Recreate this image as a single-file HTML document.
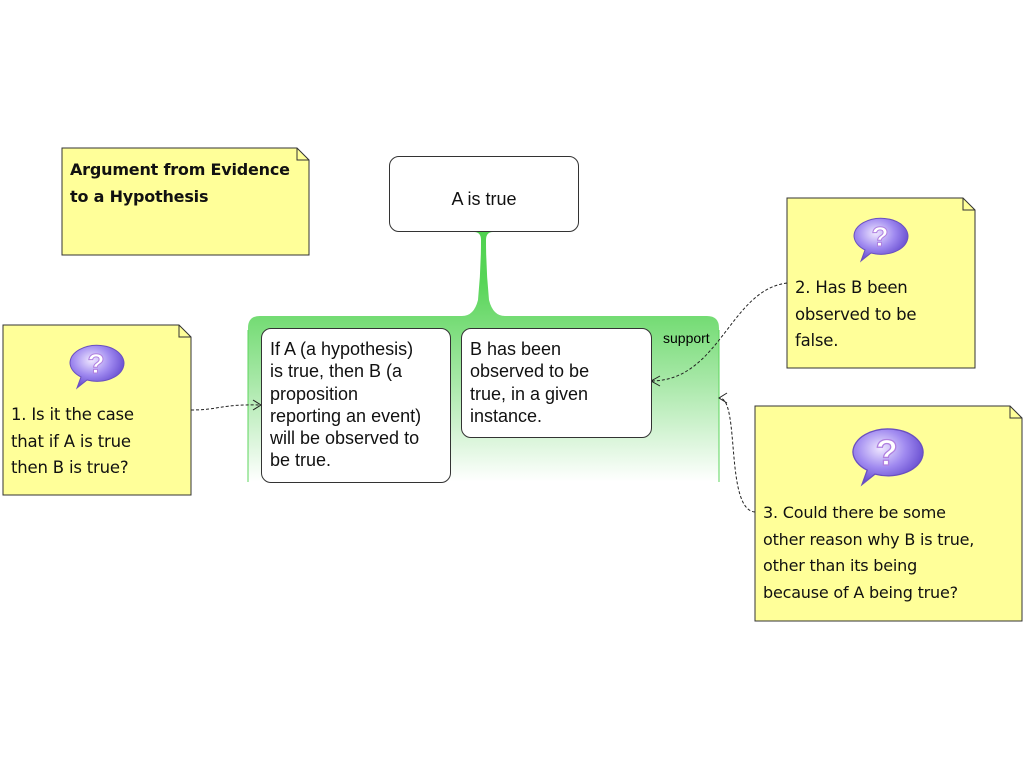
<!DOCTYPE html>
<html><head><style>
body{margin:0;width:1024px;height:768px;background:#fff;position:relative;overflow:hidden;font-family:"Liberation Sans",sans-serif}
.b{position:absolute;background:#fff;border:1px solid #333;border-radius:10px;box-sizing:border-box;font-size:18px;color:#111;line-height:22.3px}
.c{font-family:"DejaVu Sans",sans-serif;font-size:16.5px;color:#111;line-height:26.5px;letter-spacing:-0.2px}
</style></head><body>
<svg width="1024" height="768" style="position:absolute;left:0;top:0">
<defs>
<linearGradient id="g" x1="0" y1="0" x2="0" y2="1">
<stop offset="0" stop-color="#4fd24f"/><stop offset="0.2" stop-color="#58d558"/><stop offset="0.6" stop-color="#a8e8a8"/><stop offset="1" stop-color="#ffffff"/></linearGradient>
<radialGradient id="q" cx="0.4" cy="0.35" r="0.7"><stop offset="0" stop-color="#f0e8ff"/><stop offset="0.5" stop-color="#a08af0"/><stop offset="1" stop-color="#5a3fc8"/></radialGradient>
<g id="qb"><path d="M-27 0 A27 18 0 1 1 -10 17 L-20 25 L-16 14 A27 18 0 0 1 -27 0Z" fill="url(#q)" stroke="#6a50c0"/><text x="-1" y="10" text-anchor="middle" font-size="28" font-family="Liberation Sans" font-weight="bold" fill="#fff" stroke="#b080e0" stroke-width="1">?</text></g>
</defs>
<path d="M248 482 V328 Q248 316 260 316 H462 Q474 316 478 300 Q481 270 481 240 Q481 232 474 232 H493 Q486 232 486 240 Q486 270 489 300 Q493 316 505 316 H707 Q719 316 719 328 V482Z" fill="url(#g)"/>
<path d="M248 482V330M719 482V330" stroke="#5cd65c" stroke-width="1"/>
<path d="M62 148H297L309 160V255H62Z" fill="#ffff99" stroke="#333"/><path d="M297 148V160H309" fill="none" stroke="#333"/>
<path d="M3 325H179L191 337V495H3Z" fill="#ffff99" stroke="#333"/><path d="M179 325V337H191" fill="none" stroke="#333"/>
<path d="M787 198H963L975 210V368H787Z" fill="#ffff99" stroke="#333"/><path d="M963 198V210H975" fill="none" stroke="#333"/>
<path d="M755 406H1010L1022 418V621H755Z" fill="#ffff99" stroke="#333"/><path d="M1010 406V418H1022" fill="none" stroke="#333"/>
<use href="#qb" x="97" y="363"/>
<use href="#qb" x="881" y="236"/>
<g transform="translate(888,452) scale(1.3)"><use href="#qb"/></g>
<g fill="none" stroke="#222" stroke-dasharray="3,2">
<path d="M191 410 C220 410 220 404 260 405"/>
<path d="M787 283 C730 290 720 380 652 381"/>
<path d="M755 512 C725 510 740 400 720 398"/>
</g>
<g fill="none" stroke="#222">
<path d="M253 400 L261 405 L253 410"/>
<path d="M660 376 L651 381 L660 386"/>
<path d="M727 393 L719 398 L727 403"/>
</g>
<text x="663" y="343" font-size="14" font-family="Liberation Sans">support</text>
</svg>
<div class="b" style="left:389px;top:156px;width:190px;height:76px;text-align:center;line-height:84px">A is true</div>
<div class="b" style="left:261px;top:328px;width:190px;height:155px;padding:9px 22px 9px 8px">If A (a hypothesis) is true, then B (a proposition reporting an event) will be observed to be true.</div>
<div class="b" style="left:461px;top:328px;width:191px;height:110px;padding:9px 40px 9px 8px">B has been observed to be true, in a given instance.</div>
<div class="c" style="position:absolute;left:70px;top:157px;font-weight:bold;font-size:16px">Argument from Evidence<br>to a Hypothesis</div>
<div class="c" style="position:absolute;left:11px;top:402px">1. Is it the case<br>that if A is true<br>then B is true?</div>
<div class="c" style="position:absolute;left:795px;top:275px">2. Has B been<br>observed to be<br>false.</div>
<div class="c" style="position:absolute;left:763px;top:500px;font-size:16px">3. Could there be some<br>other reason why B is true,<br>other than its being<br>because of A being true?</div>
</body></html>
